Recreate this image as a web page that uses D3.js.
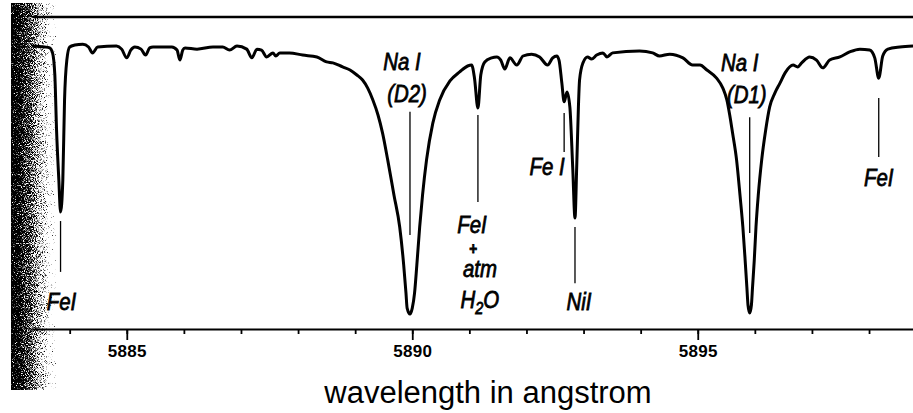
<!DOCTYPE html>
<html>
<head>
<meta charset="utf-8">
<script src="https://cdn.jsdelivr.net/npm/d3@7"></script>
<style>
  html, body { margin: 0; padding: 0; background: #fff; }
  svg { display: block; }
</style>
</head>
<body>
<svg id="chart" width="913" height="413"></svg>
<script>
// solar spectrum around the sodium D lines
// wavelength in angstrom, intensity in % of the top reference line
var wavelength = [
  5883.34, 5883.56, 5883.65, 5883.70, 5883.74, 5883.77, 5883.81, 5883.84, 5883.88, 5883.91,
  5883.95, 5884.00, 5884.09, 5884.23, 5884.33, 5884.40, 5884.49, 5884.82, 5884.91, 5885.00,
  5885.07, 5885.14, 5885.25, 5885.33, 5885.40, 5885.46, 5885.79, 5885.88, 5885.93, 5885.98,
  5886.02, 5886.23, 5886.51, 5886.68, 5886.80, 5886.93, 5887.10, 5887.19, 5887.28, 5887.36,
  5887.45, 5887.56, 5887.61, 5887.68, 5887.85, 5888.08, 5888.33, 5888.50, 5888.61, 5888.78,
  5888.91, 5889.03, 5889.13, 5889.22, 5889.31, 5889.40, 5889.48, 5889.57, 5889.68, 5889.78,
  5889.85, 5889.89, 5889.91, 5889.96, 5890.00, 5890.04, 5890.08, 5890.13, 5890.18, 5890.25,
  5890.36, 5890.48, 5890.66, 5890.83, 5890.97, 5891.04, 5891.09, 5891.15, 5891.20, 5891.27,
  5891.39, 5891.48, 5891.55, 5891.62, 5891.71, 5891.83, 5891.94, 5892.09, 5892.23, 5892.37,
  5892.46, 5892.53, 5892.57, 5892.62, 5892.66, 5892.71, 5892.76, 5892.81, 5892.85, 5892.88,
  5892.91, 5892.93, 5892.99, 5893.07, 5893.14, 5893.23, 5893.34, 5893.41, 5893.51, 5893.98,
  5894.21, 5894.33, 5894.51, 5894.74, 5894.91, 5895.04, 5895.16, 5895.33, 5895.44, 5895.51,
  5895.56, 5895.61, 5895.68, 5895.74, 5895.79, 5895.83, 5895.86, 5895.88, 5895.91, 5895.94,
  5895.96, 5895.99, 5896.02, 5896.06, 5896.12, 5896.19, 5896.26, 5896.35, 5896.44, 5896.53,
  5896.67, 5896.75, 5896.82, 5896.96, 5897.08, 5897.19, 5897.31, 5897.49, 5897.66, 5897.84,
  5898.01, 5898.10, 5898.17, 5898.24, 5898.33, 5898.54, 5898.77
]
var intensity = [
  90.7, 90.4, 90.1, 88.5, 81.4, 63.8, 47.8, 37.5, 47.8, 73.4,
  86.2, 90.4, 91.0, 91.3, 90.4, 88.5, 90.4, 90.7, 89.7, 86.9,
  89.4, 90.4, 89.7, 87.8, 90.1, 90.4, 90.4, 89.4, 86.2, 89.4,
  90.1, 89.7, 90.4, 90.4, 89.4, 90.7, 89.7, 86.9, 89.7, 89.4,
  87.2, 88.5, 87.5, 88.5, 88.5, 87.8, 87.2, 85.6, 85.3, 84.0,
  83.0, 81.4, 79.8, 77.2, 73.4, 68.6, 62.8, 54.2, 42.9, 32.7,
  20.5, 11.5, 6.7, 4.8, 6.7, 11.5, 20.5, 32.7, 42.9, 54.2,
  66.0, 73.4, 79.5, 82.4, 84.3, 84.6, 80.4, 70.8, 81.4, 85.6,
  86.9, 87.2, 86.2, 83.3, 86.9, 84.6, 87.5, 88.1, 87.2, 84.6,
  86.9, 87.5, 86.2, 78.8, 72.8, 76.0, 71.2, 51.9, 35.6, 51.9,
  71.2, 79.8, 85.3, 87.2, 86.5, 87.8, 88.5, 87.2, 88.5, 89.1,
  88.5, 87.5, 88.1, 86.9, 84.6, 84.6, 83.0, 80.4, 77.2, 73.4,
  68.6, 62.8, 54.2, 42.9, 32.7, 22.1, 13.5, 7.7, 5.1, 7.7,
  13.5, 22.1, 32.7, 42.9, 54.2, 63.8, 71.2, 75.6, 78.8, 82.1,
  84.6, 84.0, 85.3, 87.2, 86.2, 83.7, 86.2, 87.2, 88.8, 89.7,
  89.4, 86.9, 80.4, 87.5, 89.7, 90.4, 90.7
]

// axis ticks
var minorTicks = [5884, 5885, 5886, 5887, 5888, 5889, 5890, 5891, 5892, 5893, 5894, 5895, 5896, 5897, 5898]
var majorTicks = [5885, 5890, 5895]
var xTitle = "wavelength in angstrom"

// line identifications: marker position and the span of its pointer line (in % units)
var markerWave = [5883.84, 5889.96, 5891.15, 5892.66, 5892.85, 5895.91, 5898.17]
var markerTop = [34.6, 69.6, 68.6, 69.2, 32.7, 67.9, 74.0]
var markerBottom = [18.3, 30.1, 40.7, 56.7, 14.7, 30.8, 55.1]
var markerText = [
  ["FeI"],
  ["Na I", "(D2)"],
  ["FeI", "+", "atm", "H2O"],
  ["Fe I"],
  ["NiI"],
  ["Na I", "(D1)"],
  ["FeI"]
]

// label layout in pixels: [dx from marker, baseline y] for every text piece
var labelLayout = [
  [[1, 310]],
  [[-8, 70], [-3, 102]],
  [[-6, 233], [-5, 254], [2, 277], [2, 308]],
  [[-17, 175]],
  [[4, 310]],
  [[-10, 71], [-3, 103]],
  [[0, 186]]
]

var svg = d3.select("#chart")
var defs = svg.append("defs")

var x = d3.scaleLinear()
  .domain([5883.34, 5898.77])
  .range([32, 913])

var y = d3.scaleLinear()
  .domain([0, 100])
  .range([329, 17])

// scanned page edge on the left: stipple whose density follows a gradient
var grad = defs.append("linearGradient")
  .attr("id", "edge")
  .attr("x1", "0").attr("x2", "1").attr("y1", "0").attr("y2", "0")
grad.append("stop").attr("offset", "0").attr("stop-color", "#000").attr("stop-opacity", 1)
grad.append("stop").attr("offset", "0.4").attr("stop-color", "#000").attr("stop-opacity", 0.72)
grad.append("stop").attr("offset", "1").attr("stop-color", "#000").attr("stop-opacity", 0.15)

var grain = defs.append("filter")
  .attr("id", "grain")
  .attr("x", 0).attr("y", 0).attr("width", 1).attr("height", 1)
grain.append("feTurbulence")
  .attr("type", "fractalNoise")
  .attr("baseFrequency", 1.1)
  .attr("numOctaves", 2)
  .attr("seed", 7)
  .attr("result", "noise")
grain.append("feColorMatrix")
  .attr("in", "noise")
  .attr("type", "matrix")
  .attr("values", "0 0 0 0 0  0 0 0 0 0  0 0 0 0 0  1 0 0 0 0")
  .attr("result", "dots")
grain.append("feComposite")
  .attr("in", "dots")
  .attr("in2", "SourceGraphic")
  .attr("operator", "arithmetic")
  .attr("k1", 0).attr("k2", 5).attr("k3", 3.2).attr("k4", -4.0)

svg.append("rect")
  .attr("x", 11)
  .attr("y", 3)
  .attr("width", 45)
  .attr("height", 387)
  .attr("fill", "url(#edge)")
  .attr("filter", "url(#grain)")

// reference line at the top
svg.append("line")
  .attr("x1", x.range()[0] + 1)
  .attr("x2", x.range()[1])
  .attr("y1", y(100))
  .attr("y2", y(100))
  .attr("stroke", "#000")
  .attr("stroke-width", 2.5)

// x axis: minor ticks then major ticks with labels
var minorAxis = d3.axisBottom(x)
  .tickValues(minorTicks)
  .tickSize(5)
  .tickSizeOuter(0)
  .tickFormat("")

var majorAxis = d3.axisBottom(x)
  .tickValues(majorTicks)
  .tickSize(11)
  .tickSizeOuter(0)
  .tickPadding(5)
  .tickFormat(d3.format("d"))

var gMinor = svg.append("g")
  .attr("transform", `translate(0,${y(0)})`)
  .call(minorAxis)
gMinor.select(".domain").attr("stroke-width", 2.2)
gMinor.selectAll(".tick line").attr("stroke-width", 1.8)

var gMajor = svg.append("g")
  .attr("transform", `translate(0,${y(0)})`)
  .call(majorAxis)
gMajor.select(".domain").remove()
gMajor.selectAll(".tick line").attr("stroke-width", 1.8)
gMajor.selectAll(".tick text")
  .attr("font-family", "'Liberation Sans', Arial, sans-serif")
  .attr("font-size", 17)
  .attr("font-weight", "bold")
  .attr("letter-spacing", 0.3)
  .attr("fill", "#000")

svg.append("text")
  .attr("x", 488)
  .attr("y", 403)
  .attr("text-anchor", "middle")
  .attr("font-family", "'Liberation Sans', Arial, sans-serif")
  .attr("font-size", 31)
  .attr("fill", "#000")
  .text(xTitle)

// the spectrum trace
var pts = wavelength.map((w, i) => [w, intensity[i]])
var line = d3.line()
  .x(d => x(d[0]))
  .y(d => y(d[1]))
  .curve(d3.curveMonotoneX)

svg.append("path")
  .datum(pts)
  .attr("d", line)
  .attr("fill", "none")
  .attr("stroke", "#000")
  .attr("stroke-width", 3)
  .attr("stroke-linejoin", "round")

// pointer lines
svg.selectAll("line.marker")
  .data(markerWave)
  .enter()
  .append("line")
  .attr("class", "marker")
  .attr("x1", d => x(d))
  .attr("x2", d => x(d))
  .attr("y1", (d, i) => y(markerTop[i]))
  .attr("y2", (d, i) => y(markerBottom[i]))
  .attr("stroke", "#000")
  .attr("stroke-width", 1.3)

// hand lettered labels
markerText.forEach((pieces, i) => {
  pieces.forEach((txt, j) => {
    var pos = labelLayout[i][j]
    var cx = x(markerWave[i]) + pos[0]
    var t = svg.append("text")
      .attr("transform", `translate(${cx},${pos[1]}) scale(0.85,1)`)
      .attr("text-anchor", "middle")
      .attr("font-family", "'Liberation Sans', Arial, sans-serif")
      .attr("font-style", "italic")
      .attr("font-size", txt === "+" ? 16 : 24)
      .attr("font-weight", txt === "+" ? "bold" : "normal")
      .attr("fill", "#000")
      .attr("stroke", "#000")
      .attr("stroke-width", 0.8)
    if (txt === "H2O") {
      t.append("tspan").text("H")
      t.append("tspan").attr("font-size", 17).attr("dy", 6).text("2")
      t.append("tspan").attr("dy", -6).text("O")
    } else {
      t.text(txt)
    }
  })
})
</script>
</body>
</html>
